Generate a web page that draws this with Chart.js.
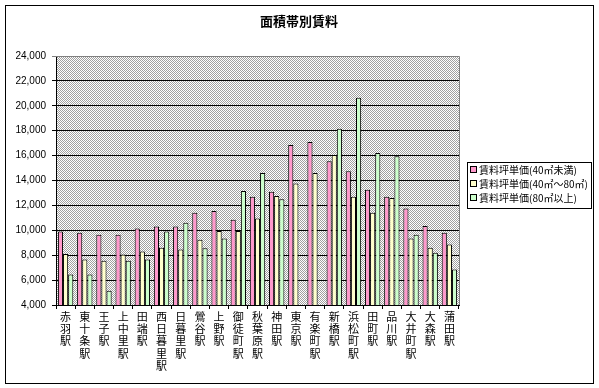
<!DOCTYPE html>
<html lang="ja">
<head>
    <meta charset="UTF-8">
    <title>面積帯別賃料</title>
    <script src="https://cdn.jsdelivr.net/npm/chart.js"></script>
    <style>
        body { margin: 0; background: #fff; }
    </style>
</head>
<body>
    <canvas id="rentChart" width="599" height="388"></canvas>
    <script>
        // stations (each label drawn vertically, one char per line)
        var stations = ['赤羽駅', '東十条駅', '王子駅', '上中里駅', '田端駅', '西日暮里駅', '日暮里駅',
            '鶯谷駅', '上野駅', '御徒町駅', '秋葉原駅', '神田駅', '東京駅', '有楽町駅',
            '新橋駅', '浜松町駅', '田町駅', '品川駅', '大井町駅', '大森駅', '蒲田駅'];
        var seriesNames = ['賃料坪単価(40㎡未満)', '賃料坪単価(40㎡～80㎡)', '賃料坪単価(80㎡以上)'];
        var under40 = [9900, 9800, 9650, 9650, 10150, 10300, 10300, 11400, 11550, 10850, 12700,
            13100, 16850, 17100, 15550, 14750, 13250, 12700, 11750, 10350, 9800];
        var from40to80 = [8100, 7650, 7550, 8050, 8300, 8600, 8450, 9250, 9950, 9950, 10950,
            12750, 13750, 14600, 16050, 12700, 11400, 12600, 9350, 8600, 8850];
        var over80 = [6450, 6450, 5150, 7550, 7650, 9900, 10600, 8550, 9350, 13150, 14600,
            12500, null, null, 18150, 20650, 16200, 15950, 9650, 8200, 6850];
        var yTicks = [4000, 6000, 8000, 10000, 12000, 14000, 16000, 18000, 20000, 22000, 24000];

        var colors = ['#FF99CC', '#FFFFCC', '#CCFFCC'];
        var cjk = '"Noto Sans CJK JP", sans-serif';

        // checker pattern like the excel plot area
        var pc = document.createElement('canvas');
        pc.width = 2; pc.height = 2;
        var pctx = pc.getContext('2d');
        pctx.fillStyle = '#ffffff';
        pctx.fillRect(0, 0, 2, 2);
        pctx.fillStyle = '#a0a0a0';
        pctx.fillRect(0, 0, 1, 1);
        pctx.fillRect(1, 1, 1, 1);

        var framePlugin = {
            id: 'frame',
            beforeDraw: function(chart) {
                var c = chart.ctx, a = chart.chartArea;
                c.save();
                c.fillStyle = '#fff';
                c.fillRect(0, 0, chart.width, chart.height);
                c.strokeStyle = '#000';
                c.lineWidth = 1;
                c.strokeRect(5.5, 5.5, 588, 378);
                c.fillStyle = c.createPattern(pc, 'repeat');
                c.fillRect(a.left, a.top, a.right - a.left, a.bottom - a.top);
                c.restore();
            },
            afterDraw: function(chart) {
                var c = chart.ctx, a = chart.chartArea;
                c.save();
                // gray top / right border of plot area
                c.strokeStyle = '#808080';
                c.lineWidth = 1;
                c.beginPath();
                c.moveTo(a.left, a.top + 0.5);
                c.lineTo(a.right + 0.5, a.top + 0.5);
                c.lineTo(a.right + 0.5, a.bottom);
                c.stroke();
                // title
                c.fillStyle = '#000';
                c.font = 'bold 13px ' + cjk;
                c.textAlign = 'center';
                c.textBaseline = 'middle';
                c.fillText('面積帯別賃料', 299, 21);
                // legend
                c.strokeStyle = '#000';
                c.strokeRect(467.5, 162.5, 124, 46);
                c.font = '10px ' + cjk;
                c.textAlign = 'left';
                for (var i = 0; i < seriesNames.length; i++) {
                    var y = 170 + i * 14;
                    c.fillStyle = colors[i];
                    c.fillRect(470, y - 3, 6, 6);
                    c.strokeRect(470.5, y - 3.5, 6, 6);
                    c.fillStyle = '#000';
                    c.fillText(seriesNames[i], 479, y);
                }
                c.restore();
            }
        };

        var ctx = document.getElementById('rentChart').getContext('2d');
        var rentChart = new Chart(ctx, {
            type: 'bar',
            data: {
                labels: stations.map(function(s) { return s.split(''); }),
                datasets: [under40, from40to80, over80].map(function(d, i) {
                    return {
                        label: seriesNames[i],
                        data: d,
                        backgroundColor: colors[i],
                        borderColor: '#000',
                        borderWidth: 1,
                        categoryPercentage: 0.8,
                        barPercentage: 1.0
                    };
                })
            },
            options: {
                responsive: false,
                animation: false,
                layout: { padding: { left: 0, top: 56, right: 140, bottom: 0 } },
                plugins: {
                    legend: { display: false },
                    title: { display: false },
                    tooltip: { enabled: false }
                },
                scales: {
                    x: {
                        afterFit: function(s) { s.height = 83; },
                        grid: { display: true, drawOnChartArea: false, color: '#000', tickLength: 4, offset: true },
                        border: { color: '#000' },
                        ticks: {
                            autoSkip: false,
                            maxRotation: 0,
                            padding: 2,
                            color: '#000',
                            font: { family: cjk, size: 11, lineHeight: 1.1 }
                        }
                    },
                    y: {
                        min: 4000,
                        max: 24000,
                        afterFit: function(s) { s.width = 56; },
                        afterBuildTicks: function(s) {
                            s.ticks = yTicks.map(function(v) { return { value: v }; });
                        },
                        grid: {
                            color: function(c) { return c.tick && c.tick.value === 24000 ? '#808080' : '#000'; },
                            tickLength: 4
                        },
                        border: { color: '#000' },
                        ticks: {
                            padding: 6,
                            color: '#000',
                            font: { family: '"Liberation Sans", Arial, sans-serif', size: 10 },
                            callback: function(v) { return v.toLocaleString('en-US'); }
                        }
                    }
                }
            },
            plugins: [framePlugin]
        });
    </script>
</body>
</html>
